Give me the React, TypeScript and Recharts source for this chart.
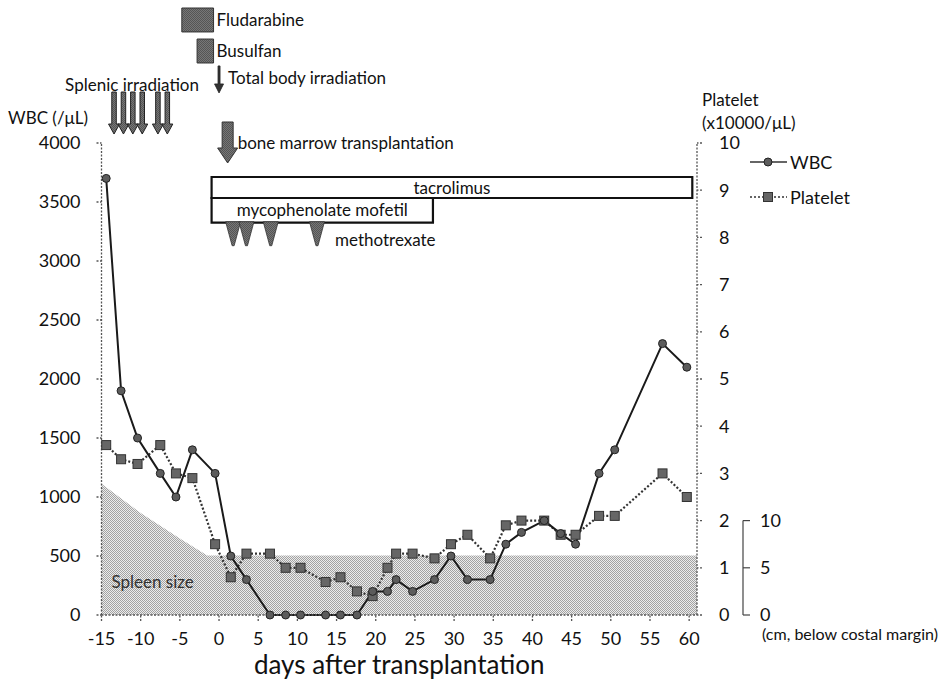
import React from 'react';
import {
  ComposedChart, Line, Area, Scatter, XAxis, YAxis,
  ReferenceArea, ReferenceLine, ReferenceDot, Legend,
} from 'recharts';

// ---------- data ----------
const DAYS = [-14.4, -12.5, -10.4, -7.5, -5.5, -3.4, -0.5, 1.5, 3.5, 6.5, 8.5, 10.4, 13.6, 15.5, 17.6, 19.6, 21.5, 22.6, 24.7, 27.5, 29.6, 31.7, 34.6, 36.6, 38.6, 41.5, 43.6, 45.5, 48.5, 50.5, 56.6, 59.7];
const WBC = [3700, 1900, 1500, 1200, 1000, 1400, 1200, 500, 300, 0, 0, 0, 0, 0, 0, 200, 200, 300, 200, 300, 500, 300, 300, 600, 700, 800, 690, 600, 1200, 1400, 2300, 2100];
const PLATELET = [3.6, 3.3, 3.2, 3.6, 3.0, 2.9, 1.5, 0.8, 1.3, 1.3, 1.0, 1.0, 0.7, 0.8, 0.5, 0.4, 1.0, 1.3, 1.3, 1.2, 1.5, 1.7, 1.2, 1.9, 2.0, 2.0, 1.7, 1.7, 2.1, 2.1, 3.0, 2.5];
const SPLEEN_DAYS = [-15, -10, -5, -1.5, 61];
const SPLEEN_CM = [13.9, 10.8, 8.1, 6.3, 6.3];

const X_TICKS = [-15, -10, -5, 0, 5, 10, 15, 20, 25, 30, 35, 40, 45, 50, 55, 60];
const WBC_TICKS = [0, 500, 1000, 1500, 2000, 2500, 3000, 3500, 4000];
const PLATELET_TICKS = [0, 1, 2, 3, 4, 5, 6, 7, 8, 9, 10];
const SPLEEN_TICKS = [0, 5, 10];

// treatment annotations (days)
const SPLENIC_IRR_DAYS = [-13.4, -12.2, -11.0, -9.8, -7.8, -6.6];
const MTX_DAYS = [1.8, 3.5, 6.6, 12.5];
const TBI_DAY = 0;
const BMT_DAY = 1.1;
const FLUDARABINE = [-4.75, -0.7];
const BUSULFAN = [-2.8, -0.7];
const TACROLIMUS = [-0.95, 60.4];
const MMF = [-0.95, 27.3];

const wbcData = DAYS.map((d, i) => ({ day: d, wbc: WBC[i] }));
const pltData = DAYS.map((d, i) => ({ day: d, plt: PLATELET[i] }));
const spleenData = SPLEEN_DAYS.map((d, i) => ({ day: d, cm: SPLEEN_CM[i] }));

// ---------- layout ----------
const W = 941;
const H = 683;
const X_AXIS_H = 68;
const LEFT_W = 101.5;
const PLT_W = 46;
const SPLEEN_W = W - LEFT_W - 595.5 - PLT_W;
const PLOT_H = H - X_AXIS_H;
const WBC_MAX = (4000 * PLOT_H) / 472;
const PLT_MAX = (10 * PLOT_H) / 472;
const SPLEEN_MAX = PLT_MAX * 5;
const X_MIN = -15;
const X_MAX = 61;
const PX_PER_DAY = 595.5 / (X_MAX - X_MIN);
const SPLEEN_AXIS_DAY = X_MAX + PLT_W / PX_PER_DAY;

const FONT = 'Lato, "Open Sans", "DejaVu Sans", sans-serif';
const TXT = { fill: '#111', fontSize: 17, fontFamily: FONT };
const DOTTED = { stroke: '#555', strokeDasharray: '2 1.5', strokeWidth: 1.3 };

const arrowPath = (cx: number, cy: number, shaftW: number, headW: number, headH: number, len: number) =>
  `M${cx - shaftW / 2},${cy} L${cx + shaftW / 2},${cy} L${cx + shaftW / 2},${cy + len - headH} L${cx + headW / 2},${cy + len - headH} L${cx},${cy + len} L${cx - headW / 2},${cy + len - headH} L${cx - shaftW / 2},${cy + len - headH} Z`;

const SplenicArrow = (p: any) => (
  <path d={arrowPath(p.cx, p.cy, 4.5, 11, 10, 42)} fill="url(#darkStip)" stroke="#222" strokeWidth={1} />
);
const TbiArrow = (p: any) => (
  <path d={arrowPath(p.cx, p.cy, 2, 9, 9, 27)} fill="#333" stroke="#222" strokeWidth={0.8} />
);
const BmtArrow = (p: any) => (
  <path d={arrowPath(p.cx, p.cy, 11, 20, 15, 41)} fill="url(#darkStip)" stroke="#333" strokeWidth={1} />
);
const MtxTriangle = (p: any) => (
  <path d={`M${p.cx - 7.5},${p.cy} L${p.cx + 7.5},${p.cy} L${p.cx + 1},${p.cy + 24} L${p.cx - 1},${p.cy + 24} Z`} fill="url(#darkStip)" stroke="#333" strokeWidth={0.8} />
);

const PlateletDot = (p: any) => (
  <rect key={`pd${p.index}`} x={p.cx - 4.5} y={p.cy - 4.5} width={9} height={9} fill="#666" stroke="#333" strokeWidth={1} />
);

const LegendBox = () => (
  <svg width={140} height={60} style={{ display: 'block' }}>
    <line x1={5} y1={12} x2={42} y2={12} stroke="#333" strokeWidth={1.5} />
    <circle cx={23} cy={12} r={4} fill="#5c5c5c" stroke="#222" strokeWidth={1} />
    <text x={45} y={12} dominantBaseline="central" fontSize={18} fontFamily={FONT} fill="#111">WBC</text>
    <line x1={5} y1={47} x2={42} y2={47} stroke="#333" strokeWidth={1.5} strokeDasharray="2 2" />
    <rect x={18.5} y={42.5} width={9} height={9} fill="#666" stroke="#333" strokeWidth={1} />
    <text x={45} y={47} dominantBaseline="central" fontSize={18} fontFamily={FONT} fill="#111">Platelet</text>
  </svg>
);

const SpleenUnitLabel = (props: any) => {
  const vb = props.viewBox;
  return (
    <text x={vb.x + 19} y={vb.y + vb.height + 25} fill="#111" fontSize={16} fontFamily={FONT} textLength={176} lengthAdjust="spacingAndGlyphs">
      (cm, below costal margin)
    </text>
  );
};

export default function App() {
  return (
    <div style={{ position: 'absolute', left: 0, top: 0, width: W, height: H, background: '#fff' }}>
      <ComposedChart width={W} height={H} margin={{ top: 0, right: 0, bottom: 0, left: 0 }}>
        <defs>
          <pattern id="lightStip" width="2" height="2" patternUnits="userSpaceOnUse">
            <rect width="2" height="2" fill="#ececec" />
            <rect x="0" y="0" width="1" height="1" fill="#a2a2a2" />
            <rect x="1" y="1" width="1" height="1" fill="#a2a2a2" />
          </pattern>
          <pattern id="darkStip" width="2" height="2" patternUnits="userSpaceOnUse">
            <rect width="2" height="2" fill="#777" />
            <rect x="0" y="0" width="1" height="1" fill="#555" />
            <rect x="1" y="1" width="1" height="1" fill="#555" />
          </pattern>
        </defs>

        <XAxis
          type="number"
          dataKey="day"
          domain={[X_MIN, X_MAX]}
          ticks={X_TICKS}
          height={X_AXIS_H}
          axisLine={DOTTED}
          tickLine={DOTTED}
          tickSize={6}
          tickMargin={11}
          tick={{ fill: '#111', fontSize: 18, fontFamily: FONT }}
          label={{ value: 'days after transplantation', position: 'insideBottom', offset: 9, fill: '#111', fontSize: 26, fontFamily: FONT }}
        />
        <YAxis
          yAxisId="wbc"
          domain={[0, WBC_MAX]}
          ticks={WBC_TICKS}
          width={LEFT_W}
          axisLine={false}
          tickLine={DOTTED}
          tickSize={5}
          tickMargin={16}
          tick={{ fill: '#111', fontSize: 18, fontFamily: FONT }}
        />
        <YAxis
          yAxisId="plt"
          orientation="right"
          domain={[0, PLT_MAX]}
          ticks={PLATELET_TICKS}
          width={PLT_W}
          axisLine={false}
          tickLine={DOTTED}
          tickSize={5}
          tickMargin={17}
          tick={{ fill: '#111', fontSize: 18, fontFamily: FONT, textAnchor: 'start' }}
        />
        <YAxis
          yAxisId="spleen"
          orientation="right"
          domain={[0, SPLEEN_MAX]}
          ticks={SPLEEN_TICKS}
          width={SPLEEN_W}
          axisLine={false}
          tickLine={{ stroke: '#444', strokeWidth: 1.2 }}
          tickSize={7}
          tickMargin={10}
          tick={{ fill: '#111', fontSize: 18, fontFamily: FONT, textAnchor: 'start' }}
          label={{ value: '(cm, below costal margin)', position: 'insideBottomLeft', content: SpleenUnitLabel }}
        />

        {/* axis lines */}
        <ReferenceLine yAxisId="wbc" segment={[{ x: X_MIN, y: 0 }, { x: X_MIN, y: 4000 }]} {...DOTTED} ifOverflow="visible" />
        <ReferenceLine yAxisId="plt" segment={[{ x: X_MAX, y: 0 }, { x: X_MAX, y: 10 }]} {...DOTTED} ifOverflow="visible" />
        <ReferenceLine yAxisId="spleen" segment={[{ x: SPLEEN_AXIS_DAY, y: 0 }, { x: SPLEEN_AXIS_DAY, y: 10 }]} stroke="#444" strokeWidth={1.2} ifOverflow="visible" />

        <Area
          yAxisId="spleen"
          data={spleenData}
          dataKey="cm"
          type="linear"
          stroke="none"
          fill="url(#lightStip)"
          fillOpacity={1}
          isAnimationActive={false}
        />

        {/* treatment boxes */}
        <ReferenceArea yAxisId="wbc" x1={FLUDARABINE[0]} x2={FLUDARABINE[1]} y1={4941} y2={5144} fill="url(#darkStip)" fillOpacity={1} stroke="#333" strokeWidth={1}
          label={{ value: 'Fludarabine', position: 'right', offset: 3, ...TXT }} />
        <ReferenceArea yAxisId="wbc" x1={BUSULFAN[0]} x2={BUSULFAN[1]} y1={4678} y2={4881} fill="url(#darkStip)" fillOpacity={1} stroke="#333" strokeWidth={1}
          label={{ value: 'Busulfan', position: 'right', offset: 3, ...TXT }} />
        <ReferenceArea yAxisId="wbc" x1={TACROLIMUS[0]} x2={TACROLIMUS[1]} y1={3534} y2={3712} fill="#fff" fillOpacity={1} stroke="#111" strokeWidth={2.2}
          label={{ value: 'tacrolimus', position: 'center', ...TXT }} />
        <ReferenceArea yAxisId="wbc" x1={MMF[0]} x2={MMF[1]} y1={3326} y2={3534} fill="#fff" fillOpacity={1} stroke="#111" strokeWidth={2.2}
          label={{ value: 'mycophenolate mofetil', position: 'center', ...TXT }} />

        {/* arrows and triangles */}
        <Scatter yAxisId="wbc" data={SPLENIC_IRR_DAYS.map((d) => ({ day: d, v: 4432 }))} dataKey="v" shape={SplenicArrow} isAnimationActive={false} />
        <Scatter yAxisId="wbc" data={[{ day: TBI_DAY, v: 4653 }]} dataKey="v" shape={TbiArrow} isAnimationActive={false} />
        <Scatter yAxisId="wbc" data={[{ day: BMT_DAY, v: 4178 }]} dataKey="v" shape={BmtArrow} isAnimationActive={false} />
        <Scatter yAxisId="wbc" data={MTX_DAYS.map((d) => ({ day: d, v: 3333 }))} dataKey="v" shape={MtxTriangle} isAnimationActive={false} />

        {/* text annotations */}
        <ReferenceDot yAxisId="wbc" x={-11.1} y={4492} r={0} stroke="none" label={{ value: 'Splenic irradiation', position: 'center', ...TXT }} />
        <ReferenceDot yAxisId="wbc" x={TBI_DAY} y={4551} r={0} stroke="none" label={{ value: 'Total body irradiation', position: 'right', offset: 9, ...TXT }} />
        <ReferenceDot yAxisId="wbc" x={BMT_DAY} y={4000} r={0} stroke="none" label={{ value: 'bone marrow transplantation', position: 'right', offset: 10, ...TXT }} />
        <ReferenceDot yAxisId="wbc" x={14.8} y={3178} r={0} stroke="none" label={{ value: 'methotrexate', position: 'right', offset: 0, ...TXT }} />
        <ReferenceDot yAxisId="wbc" x={X_MIN} y={280} r={0} stroke="none" label={{ value: 'Spleen size', position: 'right', offset: 10, ...TXT, fill: '#333' }} />
        <ReferenceDot yAxisId="wbc" x={X_MIN} y={4212} r={0} stroke="none" ifOverflow="visible" label={{ value: 'WBC (/μL)', position: 'left', offset: 13.5, ...TXT }} />
        <ReferenceDot yAxisId="plt" x={X_MAX} y={10.91} r={0} stroke="none" ifOverflow="visible" label={{ value: 'Platelet', position: 'right', offset: 5, ...TXT }} />
        <ReferenceDot yAxisId="plt" x={X_MAX} y={10.42} r={0} stroke="none" ifOverflow="visible" label={{ value: '(x10000/μL)', position: 'right', offset: 5, ...TXT }} />

        {/* series */}
        <Line
          yAxisId="plt"
          data={pltData}
          dataKey="plt"
          type="linear"
          stroke="#333"
          strokeWidth={2.2}
          strokeDasharray="2 2"
          dot={PlateletDot}
          isAnimationActive={false}
        />
        <Line
          yAxisId="wbc"
          data={wbcData}
          dataKey="wbc"
          type="linear"
          stroke="#1a1a1a"
          strokeWidth={2}
          dot={{ r: 4, fill: '#5c5c5c', stroke: '#222', strokeWidth: 1 }}
          isAnimationActive={false}
        />

        <Legend
          layout="vertical"
          align="center"
          verticalAlign="middle"
          wrapperStyle={{ position: 'absolute', left: 745, top: 150, width: 140, height: 60 }}
          content={() => <LegendBox />}
        />
      </ComposedChart>
    </div>
  );
}
